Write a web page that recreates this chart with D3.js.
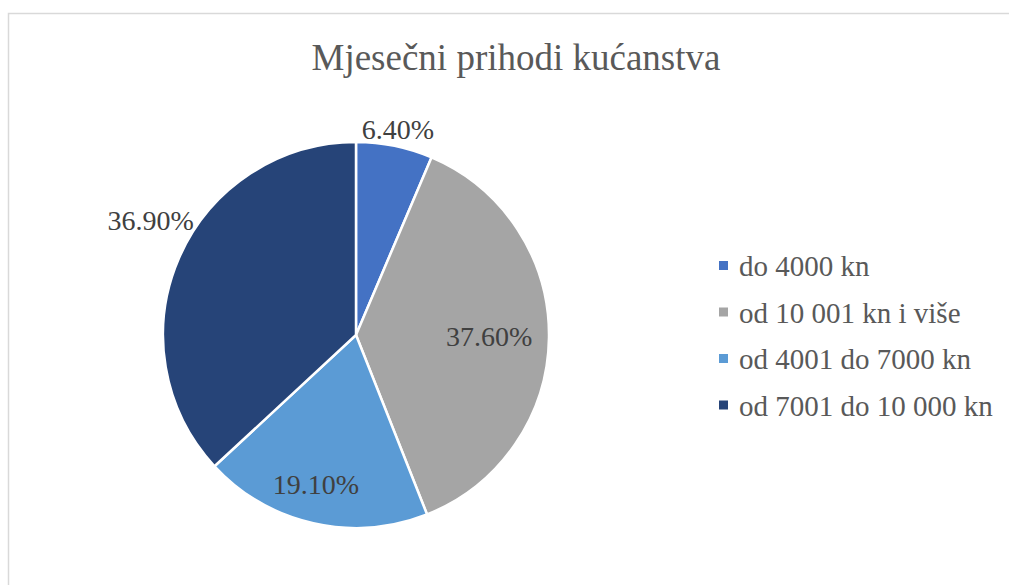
<!DOCTYPE html>
<html>
<head>
<meta charset="utf-8">
<script src="https://cdn.jsdelivr.net/npm/d3@7"></script>
<style>
  body { margin: 0; background: #fff; }
</style>
</head>
<body>
<svg id="pieChart" width="1009" height="585"></svg>
<script>
// data
const categories = ['do 4000 kn', 'od 10 001 kn i više', 'od 4001 do 7000 kn', 'od 7001 do 10 000 kn'];
const values = [6.4, 37.6, 19.1, 36.9];
const labels = ['6.40%', '37.60%', '19.10%', '36.90%'];
const colors = ['#4472c4', '#a5a5a5', '#5b9bd5', '#264478'];
const title = 'Mjesečni prihodi kućanstva';

const serif = 'Liberation Serif';
const width = 1009, height = 585;
const svg = d3.select('#pieChart');

// chart frame
svg.append('rect')
  .attr('x', 8.5).attr('y', 13.5)
  .attr('width', 1010).attr('height', 600)
  .attr('fill', '#fff')
  .attr('stroke', '#d9d9d9')
  .attr('stroke-width', 1.5);

// title
svg.append('text')
  .attr('x', 516)
  .attr('y', 70)
  .attr('text-anchor', 'middle')
  .attr('font-family', serif)
  .attr('font-size', 37)
  .attr('fill', '#595959')
  .text(title);

const cx = 356, cy = 335, radius = 193;

const data = categories.map((c, i) => ({name: c, value: values[i], label: labels[i], color: colors[i]}));

const pie = d3.pie().sort(null).value(d => d.value);
const arc = d3.arc().innerRadius(0).outerRadius(radius);

const g = svg.append('g').attr('transform', `translate(${cx}, ${cy})`);

const arcs = pie(data);

g.selectAll('path')
  .data(arcs)
  .join('path')
  .attr('d', arc)
  .attr('fill', d => d.data.color)
  .attr('stroke', '#fff')
  .attr('stroke-width', 2.5);

// label radius as a fraction of the pie radius (Excel best fit look)
const labelR = [1.09, 0.69, 0.80, 1.22];
const angleShift = [0, 0, 0.04, 0.1];

g.selectAll('text.label')
  .data(arcs)
  .join('text')
  .attr('class', 'label')
  .attr('transform', (d, i) => {
    const a = (d.startAngle + d.endAngle) / 2 + angleShift[i];
    const r = radius * labelR[i];
    return `translate(${Math.sin(a) * r}, ${-Math.cos(a) * r})`;
  })
  .attr('text-anchor', 'middle')
  .attr('dy', '0.35em')
  .attr('font-family', serif)
  .attr('font-size', 28)
  .attr('fill', '#404040')
  .text(d => d.data.label);

// legend
const legend = svg.append('g').attr('transform', 'translate(719, 266)');
const legendY = d3.scaleBand().domain(categories).range([0, 186]);

const item = legend.selectAll('g')
  .data(data)
  .join('g')
  .attr('transform', d => `translate(0, ${legendY(d.name)})`);

item.append('rect')
  .attr('x', 0).attr('y', -5)
  .attr('width', 9).attr('height', 9)
  .attr('fill', d => d.color);

item.append('text')
  .attr('x', 20)
  .attr('y', 0)
  .attr('dy', '0.35em')
  .attr('font-family', serif)
  .attr('font-size', 29)
  .attr('fill', '#595959')
  .text(d => d.name);
</script>
</body>
</html>
